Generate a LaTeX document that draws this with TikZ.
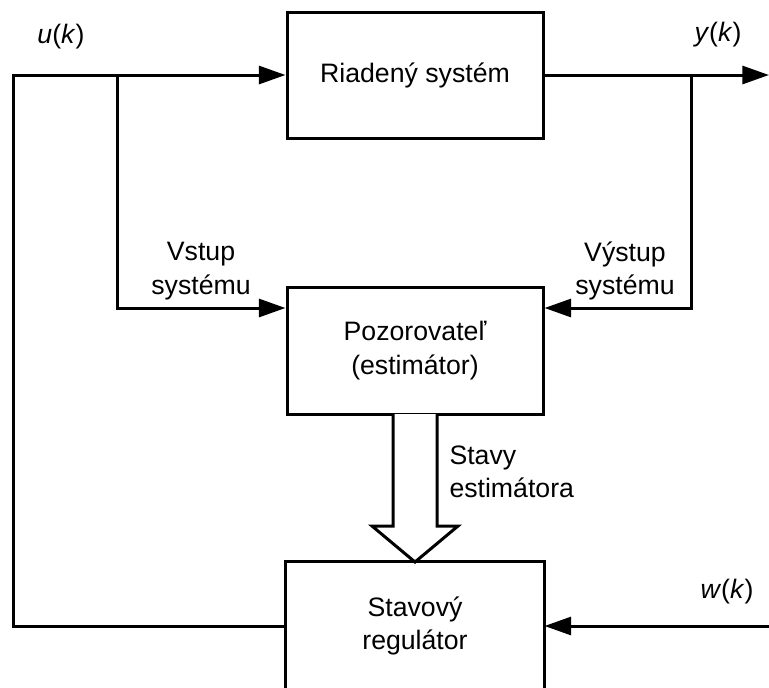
\documentclass[tikz,border=0pt]{standalone}
\usepackage{fontspec}
\setmainfont{Liberation Sans}
\usetikzlibrary{arrows.meta}
\newcommand{\signame}[1]{\textit{#1}(\textit{k})}
\begin{document}
\begin{tikzpicture}[x=0.75pt,y=-0.75pt,
  line width=2.25pt,
  every node/.style={font=\fontsize{20}{25}\selectfont, inner sep=0pt},
  block/.style={draw, minimum width=256*0.75pt, minimum height=126*0.75pt, align=center},
  lbl/.style={align=center},
  sig/.style={-{Triangle[length=20pt,width=13.5pt]}}]
  \useasboundingbox (0,0) rectangle (769,687);

  % blocks
  \node[block] (plant) at (415,75) {Riadený systém};
  \node[block, minimum height=127*0.75pt] (obs) at (415,350.5) {Pozorovateľ\\(estimátor)};
  \node[minimum width=256*0.75pt, minimum height=130*0.75pt, align=center] (reg) at (415,628) {};
  \node[lbl] (regtxt) at (415,626) {Stavový\\regulátor};
  \draw[line join=miter] (reg.south west) -- (reg.north west) -- (reg.north east) -- (reg.south east);

  % junction and end points
  \coordinate (uleft) at (13,75);
  \coordinate (ubr) at (117,75);
  \coordinate (ybr) at (691,75);
  \coordinate (yend) at (769,75);
  \coordinate (wstart) at (769,626);

  % control signal loop
  \draw[sig, line join=miter] (reg.west |- 0,626) -- (13,626) -- (uleft) -- (plant.west);
  \draw[sig, line join=miter] (ubr) |- (obs.west |- 0,308);
  % plant output
  \draw[sig] (plant.east) -- (yend);
  \draw[sig, line join=miter] (ybr) |- (obs.east |- 0,308);
  % reference input
  \draw[sig] (wstart) -- (reg.east |- 0,626);

  % hollow arrow from observer to regulator
  \draw[line join=miter, fill=white]
    (393,414) -- (393,526) -- (372,526) -- (415,562) -- (458,526) -- (437,526) -- (437,414);

  % labels
  \node (u) at (61,37) {\signame{u}};
  \node (y) at (718,35) {\signame{y}};
  \node (w) at (727,592) {\signame{w}};
  \node[lbl] (vin) at (201,271) {Vstup\\systému};
  \node[lbl] (vout) at (625,271) {Výstup\\systému};
  \node[align=left, anchor=west] (st) at (448,472) {Stavy\\estimátora};
\end{tikzpicture}
\end{document}
